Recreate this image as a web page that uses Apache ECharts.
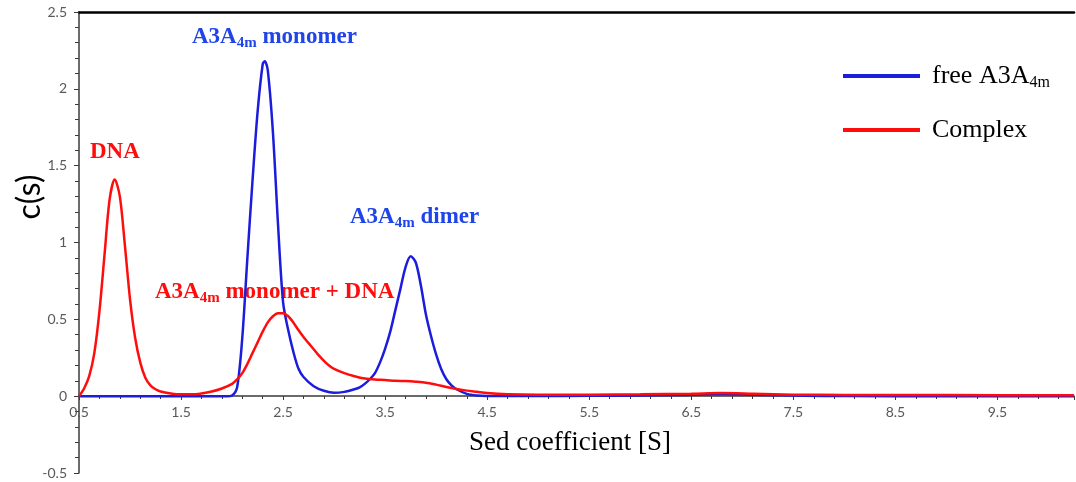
<!DOCTYPE html>
<html>
<head>
<meta charset="utf-8">
<script src="https://cdn.jsdelivr.net/npm/echarts@6/dist/echarts.min.js"></script>
<style>
  html, body { margin: 0; padding: 0; background: #fff; }
  #chart { width: 1076px; height: 482px; }
</style>
</head>
<body>
<div id="chart"></div>
<script>
// free A3A4m (blue)
var blueX = [0.5, 1.0, 1.5, 1.95, 2.0, 2.05, 2.1, 2.15, 2.2, 2.25, 2.3, 2.32, 2.35, 2.4, 2.45, 2.5, 2.55, 2.6, 2.65, 2.7, 2.8, 2.9, 3.0, 3.1, 3.2, 3.25, 3.3, 3.35, 3.4, 3.45, 3.5, 3.55, 3.6, 3.65, 3.7, 3.75, 3.8, 3.85, 3.9, 3.95, 4.0, 4.05, 4.1, 4.15, 4.2, 4.3, 4.4, 4.5, 5.0, 5.5, 6.0, 6.4, 6.8, 7.2, 7.6, 8.0, 9.0, 10.25];
var blueY = [0, 0, 0, 0, 0.005, 0.06, 0.38, 0.9, 1.4, 1.85, 2.16, 2.18, 2.12, 1.72, 1.12, 0.61, 0.43, 0.29, 0.18, 0.125, 0.065, 0.035, 0.022, 0.028, 0.045, 0.057, 0.08, 0.11, 0.15, 0.22, 0.31, 0.42, 0.56, 0.70, 0.84, 0.91, 0.87, 0.72, 0.53, 0.39, 0.27, 0.175, 0.11, 0.07, 0.045, 0.015, 0.004, 0.001, 0.001, 0.002, 0.004, 0.008, 0.012, 0.008, 0.003, 0.001, 0, 0];

// Complex (red)
var redX = [0.5, 0.55, 0.6, 0.65, 0.7, 0.75, 0.8, 0.85, 0.9, 0.95, 1.0, 1.05, 1.1, 1.15, 1.2, 1.25, 1.3, 1.4, 1.5, 1.6, 1.7, 1.8, 1.9, 2.0, 2.05, 2.1, 2.15, 2.2, 2.25, 2.3, 2.35, 2.4, 2.45, 2.5, 2.55, 2.6, 2.65, 2.7, 2.75, 2.8, 2.85, 2.9, 2.95, 3.0, 3.1, 3.2, 3.3, 3.4, 3.5, 3.6, 3.7, 3.8, 3.9, 4.0, 4.1, 4.2, 4.3, 4.4, 4.5, 4.7, 5.0, 5.5, 6.0, 6.5, 6.8, 7.1, 7.5, 8.0, 9.0, 10.25];
var redY = [0, 0.05, 0.13, 0.28, 0.55, 0.92, 1.28, 1.41, 1.30, 0.98, 0.63, 0.38, 0.22, 0.12, 0.07, 0.045, 0.03, 0.018, 0.012, 0.012, 0.018, 0.03, 0.05, 0.08, 0.11, 0.15, 0.21, 0.28, 0.35, 0.42, 0.48, 0.52, 0.54, 0.54, 0.52, 0.48, 0.43, 0.385, 0.345, 0.305, 0.265, 0.23, 0.2, 0.178, 0.15, 0.13, 0.115, 0.108, 0.105, 0.10, 0.098, 0.094, 0.088, 0.075, 0.06, 0.047, 0.036, 0.028, 0.02, 0.013, 0.01, 0.01, 0.012, 0.016, 0.02, 0.016, 0.01, 0.008, 0.007, 0.006];

var seriesNames = ['free A3A4m', 'Complex'];
var xMin = 0.5, xMax = 10.25, xStep = 1;
var yMin = -0.5, yMax = 2.5, yStep = 0.5;

var blue = '#1c1cdc';
var red = '#ff0d0d';
var textBlue = '#1f45e8';
var serif = 'Liberation Serif';

function pairs(xs, ys) {
  return xs.map(function (x, i) { return [x, ys[i]]; });
}

// label with a subscript, used by the annotations
function subLabel(x, y, parts, color) {
  return {
    type: 'text',
    x: x,
    y: y,
    style: {
      text: parts,
      textVerticalAlign: 'middle',
      rich: {
        a: { fontFamily: serif, fontWeight: 'bold', fontSize: 23, lineHeight: 24, fill: color },
        s: { fontFamily: serif, fontWeight: 'bold', fontSize: 15, lineHeight: 15, padding: [12, 0, 0, 0], fill: color }
      }
    }
  };
}

var chart = echarts.init(document.getElementById('chart'));

var option = {
  animation: false,
  grid: { left: 79, right: 2, top: 12, bottom: 9 },
  legend: {
    orient: 'vertical',
    left: 838,
    top: 58,
    itemWidth: 77,
    itemHeight: 4,
    itemGap: 26,
    icon: 'rect',
    data: seriesNames,
    formatter: function (name) {
      return name === 'free A3A4m' ? '{a|free A3A}{s|4m}' : '{a|Complex}';
    },
    textStyle: {
      rich: {
        a: { fontFamily: serif, fontSize: 26, color: '#000', padding: [0, 0, 0, 7] },
        s: { fontFamily: serif, fontSize: 16, color: '#000', padding: [14, 0, 0, 0] }
      }
    }
  },
  xAxis: [
    {
      type: 'value',
      min: xMin,
      max: xMax,
      interval: xStep,
      offset: -77,
      axisLine: { show: true, onZero: false, lineStyle: { color: '#3a3a3a', width: 1.5 } },
      axisTick: { show: true, length: 4, lineStyle: { color: '#3a3a3a' } },
      minorTick: { show: true, splitNumber: 5, length: 3, lineStyle: { color: '#3a3a3a' } },
      axisLabel: { color: '#595959', fontFamily: 'Lato', fontSize: 14, margin: 9, showMaxLabel: false },
      splitLine: { show: false }
    },
    {
      type: 'value',
      position: 'top',
      min: xMin,
      max: xMax,
      axisLine: { show: true, onZero: false, lineStyle: { color: '#000', width: 2.5 } },
      axisTick: { show: false },
      axisLabel: { show: false },
      splitLine: { show: false }
    }
  ],
  yAxis: {
    type: 'value',
    min: yMin,
    max: yMax,
    interval: yStep,
    axisLine: { show: true, onZero: false, lineStyle: { color: '#3a3a3a', width: 1.5 } },
    axisTick: { show: true, length: 5, lineStyle: { color: '#3a3a3a' } },
    minorTick: { show: true, splitNumber: 5, length: 4, lineStyle: { color: '#3a3a3a' } },
    axisLabel: { color: '#595959', fontFamily: 'Lato', fontSize: 14, margin: 12 },
    splitLine: { show: false }
  },
  graphic: [
    {
      type: 'text', x: 30, y: 197, rotation: Math.PI / 2,
      style: { text: 'c(s)', font: '32px Lato', fill: '#000', textAlign: 'center', textVerticalAlign: 'middle' }
    },
    {
      type: 'text', x: 570, y: 443,
      style: { text: 'Sed coefficient [S]', font: '27px "Liberation Serif"', fill: '#000', textAlign: 'center', textVerticalAlign: 'middle' }
    },
    {
      type: 'text', x: 90, y: 152,
      style: { text: 'DNA', font: 'bold 23px "Liberation Serif"', fill: red, textVerticalAlign: 'middle' }
    },
    subLabel(192, 37, '{a|A3A}{s|4m}{a| monomer}', textBlue),
    subLabel(350, 217, '{a|A3A}{s|4m}{a| dimer}', textBlue),
    subLabel(155, 292, '{a|A3A}{s|4m}{a| monomer + DNA}', red)
  ],
  series: [
    {
      name: seriesNames[0],
      type: 'line',
      data: pairs(blueX, blueY),
      showSymbol: false,
      smooth: 0.3,
      lineStyle: { color: blue, width: 2.5 },
      itemStyle: { color: blue }
    },
    {
      name: seriesNames[1],
      type: 'line',
      data: pairs(redX, redY),
      showSymbol: false,
      smooth: 0.3,
      lineStyle: { color: red, width: 2.5 },
      itemStyle: { color: red }
    }
  ]
};

chart.setOption(option);
</script>
</body>
</html>
